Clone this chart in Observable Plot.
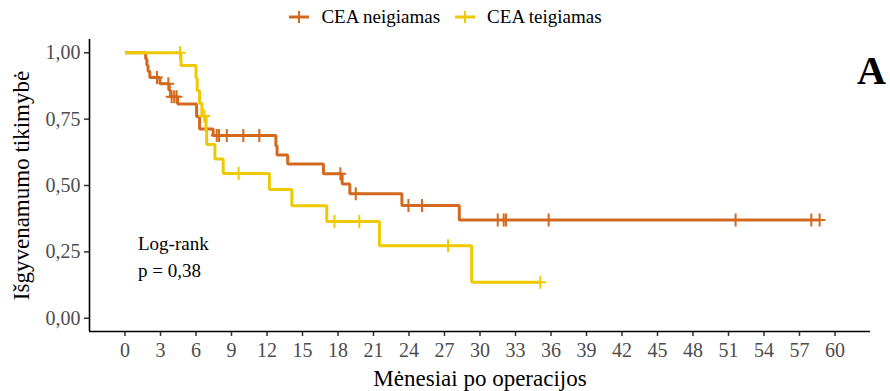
<!DOCTYPE html>
<html><head><meta charset="utf-8">
<script src="https://cdn.jsdelivr.net/npm/d3@7"></script>
<script src="https://cdn.jsdelivr.net/npm/@observablehq/plot@0.6"></script>
<style>
body{margin:0;background:#fff;width:890px;height:391px;overflow:hidden;position:relative;font-family:"Liberation Serif","Times New Roman",serif;}
#legend{height:34px;display:flex;justify-content:center;align-items:center;font-size:19px;color:#000;}
#legend .item{display:flex;align-items:center;margin:0 7px;}
#legend svg{margin-right:11px;}
#chart{height:357px;}
#tag{position:absolute;left:857px;top:51px;font-size:40px;font-weight:bold;line-height:1;color:#000;}
</style>
</head><body>
<div id="legend"></div>
<div id="chart"></div>
<div id="tag">A</div>
<script>
const groups = ["CEA neigiamas", "CEA teigiamas"];
const colors = ["#D2691E", "#EEC900"];

// CEA neigiamas: event times (months) and Kaplan-Meier survival
const negTime = [0, 1.75, 1.85, 1.95, 2.1, 2.95, 3.75, 3.85, 4.45, 6.05, 6.3, 7.45, 12.75, 12.85, 13.75, 16.77, 18.35, 19.0, 23.4, 28.25, 58.7];
const negSurv = [1, 0.977, 0.953, 0.930, 0.907, 0.883, 0.858, 0.834, 0.807, 0.760, 0.713, 0.688, 0.650, 0.615, 0.581, 0.544, 0.506, 0.469, 0.425, 0.370, 0.370];
const negCensor = [2.7, 3.66, 3.94, 4.16, 4.36, 7.75, 7.95, 8.6, 10.0, 11.35, 18.2, 19.5, 23.95, 25.1, 31.5, 32.0, 32.2, 35.8, 51.6, 58.0, 58.7];

// CEA teigiamas
const posTime = [0, 4.73, 6.0, 6.1, 6.3, 6.5, 6.85, 6.9, 7.6, 8.3, 12.2, 14.1, 17.05, 21.5, 29.3, 35.1];
const posSurv = [1, 0.952, 0.905, 0.857, 0.810, 0.762, 0.709, 0.654, 0.600, 0.545, 0.485, 0.424, 0.364, 0.273, 0.136, 0.136];
const posCensor = [4.65, 6.7, 9.6, 17.7, 19.8, 27.3, 35.1];

const xTicks = [0, 3, 6, 9, 12, 15, 18, 21, 24, 27, 30, 33, 36, 39, 42, 45, 48, 51, 54, 57, 60];
const yTicks = [0, 0.25, 0.5, 0.75, 1];
const xTitle = "Mėnesiai po operacijos";
const yTitle = "Išgyvenamumo tikimybė";
const note = {x: 1.1, y: 0.24, text: "Log-rank\np = 0,38"};

const series = [[negTime, negSurv, negCensor], [posTime, posSurv, posCensor]];
const curves = [];
const censors = [];
series.forEach(([T, S, C], g) => {
  T.forEach((t, i) => curves.push({time: t, surv: S[i], group: groups[g]}));
  C.forEach(c => {
    let k = 0;
    for (let i = 0; i < T.length; i++) if (T[i] <= c) k = i;
    censors.push({time: c, surv: S[k], group: groups[g]});
  });
});

const plus = {
  draw(ctx, size) {
    const r = Math.sqrt(size / Math.PI);
    ctx.moveTo(-r * 0.9, 0); ctx.lineTo(r * 0.9, 0);
    ctx.moveTo(0, -r); ctx.lineTo(0, r);
  }
};

const fmt = d => d.toFixed(2).replace(".", ",");

const chart = Plot.plot({
  width: 890, height: 357,
  marginLeft: 89, marginRight: 20, marginTop: 5, marginBottom: 60,
  x: {domain: [-3, 63]},
  y: {domain: [-0.05, 1.05]},
  color: {domain: groups, range: colors},
  style: {fontFamily: "'Liberation Serif','Times New Roman',serif", background: "white", overflow: "visible"},
  marks: [
    Plot.axisX({ticks: xTicks, tickSize: 5, tickPadding: 6, fontSize: 20, fill: "#4d4d4d", stroke: "#333", strokeWidth: 1.5, label: null, tickFormat: d => String(d)}),
    Plot.axisY({ticks: yTicks, tickSize: 5, tickPadding: 4, fontSize: 20, fill: "#4d4d4d", stroke: "#333", strokeWidth: 1.5, label: null, tickFormat: fmt}),
    Plot.ruleY([-0.05], {stroke: "black", strokeWidth: 1.6}),
    Plot.ruleX([-3], {stroke: "black", strokeWidth: 1.6}),
    Plot.line(curves, {x: "time", y: "surv", z: "group", stroke: "group", curve: "step-after", strokeWidth: 3, strokeLinejoin: "miter", strokeLinecap: "butt"}),
    Plot.dot(censors, {x: "time", y: "surv", stroke: "group", symbol: plus, r: 6.5, strokeWidth: 2, fill: "none"}),
    Plot.text([note], {x: "x", y: "y", text: "text", textAnchor: "start", lineHeight: 1.42, fontSize: 19, fill: "black"}),
    Plot.text([xTitle], {text: d => d, frameAnchor: "bottom", textAnchor: "middle", lineAnchor: "middle", dy: 47, fontSize: 23, fill: "black"}),
    Plot.text([yTitle], {text: d => d, frameAnchor: "left", textAnchor: "middle", lineAnchor: "middle", dx: -68, rotate: -90, fontSize: 23, fill: "black"})
  ]
});
document.getElementById("chart").appendChild(chart);

const legend = document.getElementById("legend");
groups.forEach((g, i) => {
  const item = document.createElement("div");
  item.className = "item";
  item.innerHTML = `<svg width="22" height="16"><line x1="1" y1="8" x2="21" y2="8" stroke="${colors[i]}" stroke-width="3"/><line x1="11" y1="2" x2="11" y2="14" stroke="${colors[i]}" stroke-width="2"/></svg><span>${g}</span>`;
  legend.appendChild(item);
});
</script>
</body></html>
